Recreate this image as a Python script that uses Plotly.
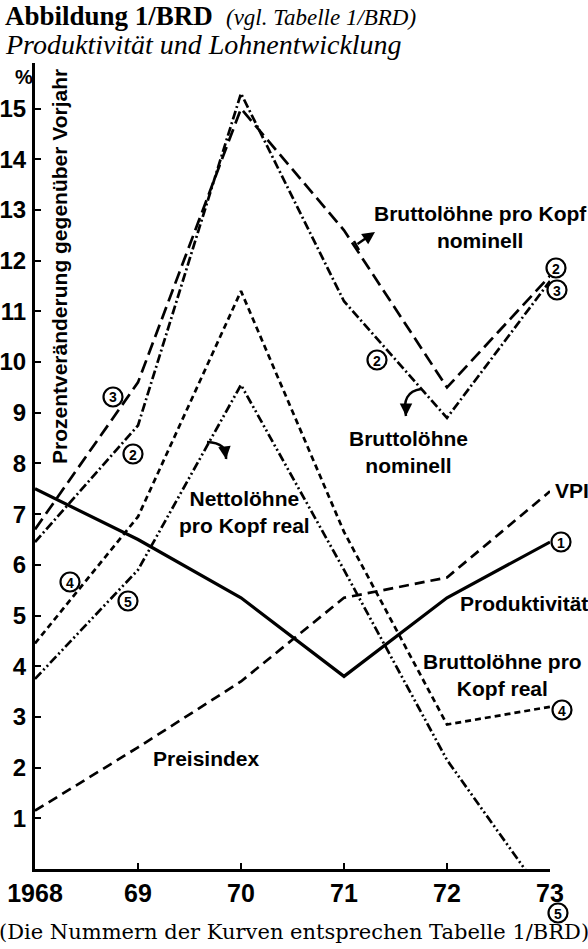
import plotly.graph_objects as go

# Data (percent change vs. previous year)
years = [1968, 1969, 1970, 1971, 1972, 1973]
year_labels = ["1968", "69", "70", "71", "72", "73"]
produktivitaet = [7.5, 6.5, 5.35, 3.8, 5.35, 6.45]            # (1)
bl_nominell = [6.45, 8.75, 15.3, 11.2, 8.9, 11.6]              # (2)
bl_kopf_nominell = [6.7, 9.6, 15.0, 12.6, 9.5, 11.7]           # (3)
bl_kopf_real = [4.45, 6.95, 11.4, 6.65, 2.85, 3.2]             # (4)
nl_kopf_real = [3.75, 5.9, 9.55, 5.9, 2.15, -0.7]              # (5)
vpi = [1.15, 2.4, 3.7, 5.35, 5.75, 7.45]
y_ticks = list(range(1, 16))

# page / plot geometry
FW, FH = 588, 949
L, R, T, B = 35, 38, 63, 80
W, H = FW - L - R, FH - T - B
BOTTOM = FH - B

SANS = "Liberation Sans"
SERIF = "Liberation Serif"


def pp(px, py):
    # page pixel -> paper coords
    return (px - L) / W, (BOTTOM - py) / H


fig = go.Figure()


def add_line(y, dash, width=2.7):
    fig.add_trace(go.Scatter(
        x=years, y=y, mode="lines",
        line=dict(color="black", width=width, dash=dash),
        showlegend=False, hoverinfo="skip"
    ))


add_line(produktivitaet, "solid", 3.2)
add_line(bl_nominell, "9px,3px,2px,3px")
add_line(bl_kopf_nominell, "13px,6px")
add_line(bl_kopf_real, "6px,4px")
add_line(nl_kopf_real, "9px,3px,2px,3px,2px,3px")
add_line(vpi, "10px,6px")


def label(px, py, text, size=21, family=SANS, weight="bold", xanchor="center",
          style="normal", yanchor="middle", angle=0):
    x, y = pp(px, py)
    fig.add_annotation(
        x=x, y=y, xref="paper", yref="paper", text=text, showarrow=False,
        xanchor=xanchor, yanchor=yanchor, align="center", textangle=angle,
        font=dict(family=family, size=size, color="black", weight=weight, style=style)
    )


def circ(px, py, n, r=9.5):
    x0, y0 = pp(px - r, py + r)
    x1, y1 = pp(px + r, py - r)
    fig.add_shape(type="circle", xref="paper", yref="paper",
                  x0=x0, y0=y0, x1=x1, y1=y1,
                  line=dict(color="black", width=2.2), fillcolor="white")
    label(px, py + 0.5, str(n), size=14)


# curve labels
label(480, 227, "Bruttolöhne pro Kopf<br>nominell")
label(408, 452, "Bruttolöhne<br>nominell")
label(244, 512, "Nettolöhne<br>pro Kopf real")
label(553, 490, "VPI", xanchor="left")
label(458, 603, "Produktivität", xanchor="left")
label(502, 675, "Bruttolöhne pro<br>Kopf real")
label(206, 758, "Preisindex")

# circled curve numbers
circ(113, 397, 3)
circ(133, 454, 2)
circ(70, 582, 4)
circ(128, 601, 5)
circ(377, 360, 2)
circ(556, 268, 2)
circ(557, 290, 3)
circ(561, 542, 1)
circ(562, 710, 4)
circ(558, 913, 5)

# titles and caption
label(3, 16, "Abbildung 1/BRD", size=27, family=SERIF, xanchor="left")
label(224, 17, "(vgl. Tabelle 1/BRD)", size=23, family=SERIF, weight="normal",
      style="italic", xanchor="left")
label(3, 44, "Produktivität und Lohnentwicklung", size=28, family=SERIF,
      weight="normal", style="italic", xanchor="left")
label(294, 932, "(Die Nummern der Kurven entsprechen Tabelle 1/BRD)", size=21,
      family="DejaVu Serif", weight="normal")
label(24, 77, "%", size=20)

# rotated axis title
label(60, 267, "Prozentveränderung gegenüber Vorjahr", angle=-90)

# straight arrow toward "Bruttolöhne pro Kopf nominell"
hx, hy = pp(375, 232)
fig.add_annotation(x=hx, y=hy, xref="paper", yref="paper", ax=-19, ay=13,
                   showarrow=True, arrowhead=2, arrowsize=1, arrowwidth=2.5,
                   arrowcolor="black", text="")
x0, y0 = pp(354, 241)
x1, y1 = pp(359, 250)
fig.add_shape(type="line", xref="paper", yref="paper", x0=x0, y0=y0, x1=x1, y1=y1,
              line=dict(color="black", width=2.5))


def curved_arrow(p0, c, p1, ax, ay):
    a = pp(*p0)
    b = pp(*c)
    e = pp(*p1)
    fig.add_shape(type="path", xref="paper", yref="paper",
                  path=f"M {a[0]},{a[1]} Q {b[0]},{b[1]} {e[0]},{e[1]}",
                  line=dict(color="black", width=2.5))
    fig.add_annotation(x=e[0], y=e[1], xref="paper", yref="paper", ax=ax, ay=ay,
                       showarrow=True, arrowhead=2, arrowsize=1, arrowwidth=2.5,
                       arrowcolor="black", text="")


curved_arrow((421, 389), (401, 392), (406, 416), 0, -8)
curved_arrow((207, 442), (228, 443), (226, 459), -1, -8)

axis_style = dict(
    showline=True, linewidth=3, linecolor="black",
    ticks="inside", ticklen=6, tickwidth=2, tickcolor="black",
    showgrid=False, zeroline=False, automargin=False,
)

fig.update_layout(
    width=FW, height=FH,
    margin=dict(l=L, r=R, t=T, b=B, autoexpand=False),
    plot_bgcolor="white", paper_bgcolor="white",
    showlegend=False,
    xaxis=dict(range=[1968, 1973], tickvals=years, ticktext=year_labels,
               tickfont=dict(family=SANS, size=25, color="black", weight="bold"),
               **axis_style),
    yaxis=dict(range=[0, 15.9], tickvals=y_ticks, ticklabelstandoff=1,
               tickfont=dict(family=SANS, size=24, color="black", weight="bold"),
               **axis_style),
)

fig.write_html("out.html", config={"displayModeBar": False},
               post_script="document.body.style.margin='0';")
